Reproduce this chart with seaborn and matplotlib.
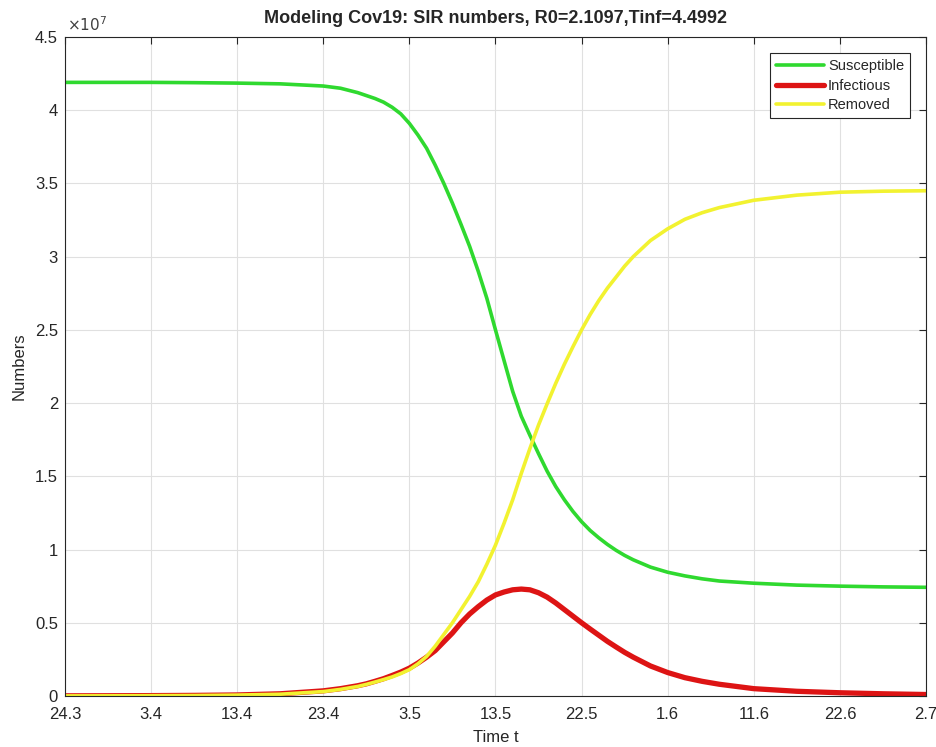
import numpy as np
import pandas as pd
import matplotlib
matplotlib.use("Agg")
import matplotlib.pyplot as plt
from matplotlib.ticker import FuncFormatter
import seaborn as sns

# day index (0 = 24.3), values in units of 1e7 people
days = [0, 5, 10, 15, 20, 25, 30, 32, 34, 35, 36, 37, 38, 39, 40, 41, 42, 43, 44, 45,
        46, 47, 48, 49, 50, 51, 52, 53, 54, 55, 56, 57, 58, 59, 60, 61, 62, 63, 64, 65,
        66, 68, 70, 72, 74, 76, 80, 85, 90, 95, 100]
susceptible = [4.19, 4.19, 4.19, 4.188, 4.185, 4.18, 4.165, 4.15, 4.12, 4.10, 4.08, 4.055, 4.02,
               3.975, 3.91, 3.83, 3.74, 3.625, 3.50, 3.365, 3.22, 3.07, 2.90, 2.715, 2.50,
               2.29, 2.08, 1.91, 1.78, 1.655, 1.535, 1.43, 1.34, 1.26, 1.19, 1.13, 1.08, 1.035,
               0.995, 0.96, 0.93, 0.88, 0.845, 0.82, 0.80, 0.785, 0.77, 0.757, 0.75, 0.745, 0.742]
infectious = [0.001, 0.0015, 0.0025, 0.004, 0.007, 0.015, 0.035, 0.05, 0.07, 0.083, 0.10, 0.118,
              0.14, 0.163, 0.19, 0.225, 0.265, 0.31, 0.37, 0.43, 0.50, 0.56, 0.61, 0.655, 0.69,
              0.71, 0.725, 0.73, 0.725, 0.705, 0.675, 0.635, 0.59, 0.545, 0.50, 0.457, 0.415,
              0.373, 0.335, 0.298, 0.265, 0.205, 0.16, 0.125, 0.10, 0.08, 0.05, 0.032, 0.022,
              0.015, 0.01]
removed = [0.0005, 0.001, 0.002, 0.003, 0.006, 0.012, 0.03, 0.045, 0.065, 0.079, 0.095, 0.112,
           0.13, 0.153, 0.18, 0.22, 0.27, 0.34, 0.42, 0.50, 0.59, 0.68, 0.78, 0.90, 1.03, 1.18,
           1.34, 1.52, 1.69, 1.85, 1.995, 2.135, 2.265, 2.385, 2.50, 2.605, 2.70, 2.785, 2.86,
           2.935, 3.00, 3.11, 3.19, 3.255, 3.30, 3.335, 3.385, 3.42, 3.44, 3.447, 3.45]
scale = 1e7

date_ticks = [0, 10, 20, 30, 40, 50, 60, 70, 80, 90, 100]
date_labels = ['24.3', '3.4', '13.4', '23.4', '3.5', '13.5', '22.5', '1.6', '11.6', '22.6', '2.7']

df = pd.DataFrame({'t': days,
                   'S': np.array(susceptible) * scale,
                   'I': np.array(infectious) * scale,
                   'R': np.array(removed) * scale})

sns.set_style('white')
plt.rcParams['font.family'] = ['Liberation Sans', 'DejaVu Sans']

fig = plt.figure(figsize=(9.36, 7.47), dpi=100)
ax = fig.add_axes([0.0694, 0.0683, 0.9199, 0.8822])

sns.lineplot(data=df, x='t', y='S', color='#2fd92f', linewidth=2.6, label='Susceptible', ax=ax)
sns.lineplot(data=df, x='t', y='I', color='#dd1414', linewidth=3.8, label='Infectious', ax=ax)
sns.lineplot(data=df, x='t', y='R', color='#f2f230', linewidth=2.6, label='Removed', ax=ax)

ax.set_xlim(0, 100)
ax.set_ylim(0, 4.5e7)
ax.set_xticks(date_ticks)
ax.set_xticklabels(date_labels)
ax.set_yticks(np.arange(0, 4.51, 0.5) * scale)
ax.yaxis.set_major_formatter(FuncFormatter(lambda v, p: f"{v / scale:g}"))

ax.grid(True, color='#e0e0e0', linewidth=0.8)
ax.tick_params(direction='in', top=True, right=True, length=5, width=0.8,
               colors='#262626', labelsize=12)
ax.tick_params(axis='x', pad=8)
ax.tick_params(axis='y', pad=5)
for sp in ax.spines.values():
    sp.set_color('#262626')
    sp.set_linewidth(0.8)

ax.text(0.002, 1.004, r'$\times10^{7}$', transform=ax.transAxes, ha='left', va='bottom',
        fontsize=11, color='#404040')
ax.set_title('Modeling Cov19: SIR numbers, R0=2.1097,Tinf=4.4992', fontsize=13,
             fontweight='bold', pad=10)
ax.set_xlabel('Time t', fontsize=12, color='#262626', labelpad=6)
ax.set_ylabel('Numbers', fontsize=12, color='#262626', labelpad=6)

leg = ax.legend(loc='upper right', bbox_to_anchor=(0.9814, 0.9757), borderaxespad=0,
                fontsize=10.5, frameon=True, fancybox=False, framealpha=1, edgecolor='#262626',
                handlelength=3.3, handletextpad=0.25, borderpad=0.4, labelspacing=0.4)
leg.get_frame().set_linewidth(0.8)

fig.savefig('out.png', dpi=100)
